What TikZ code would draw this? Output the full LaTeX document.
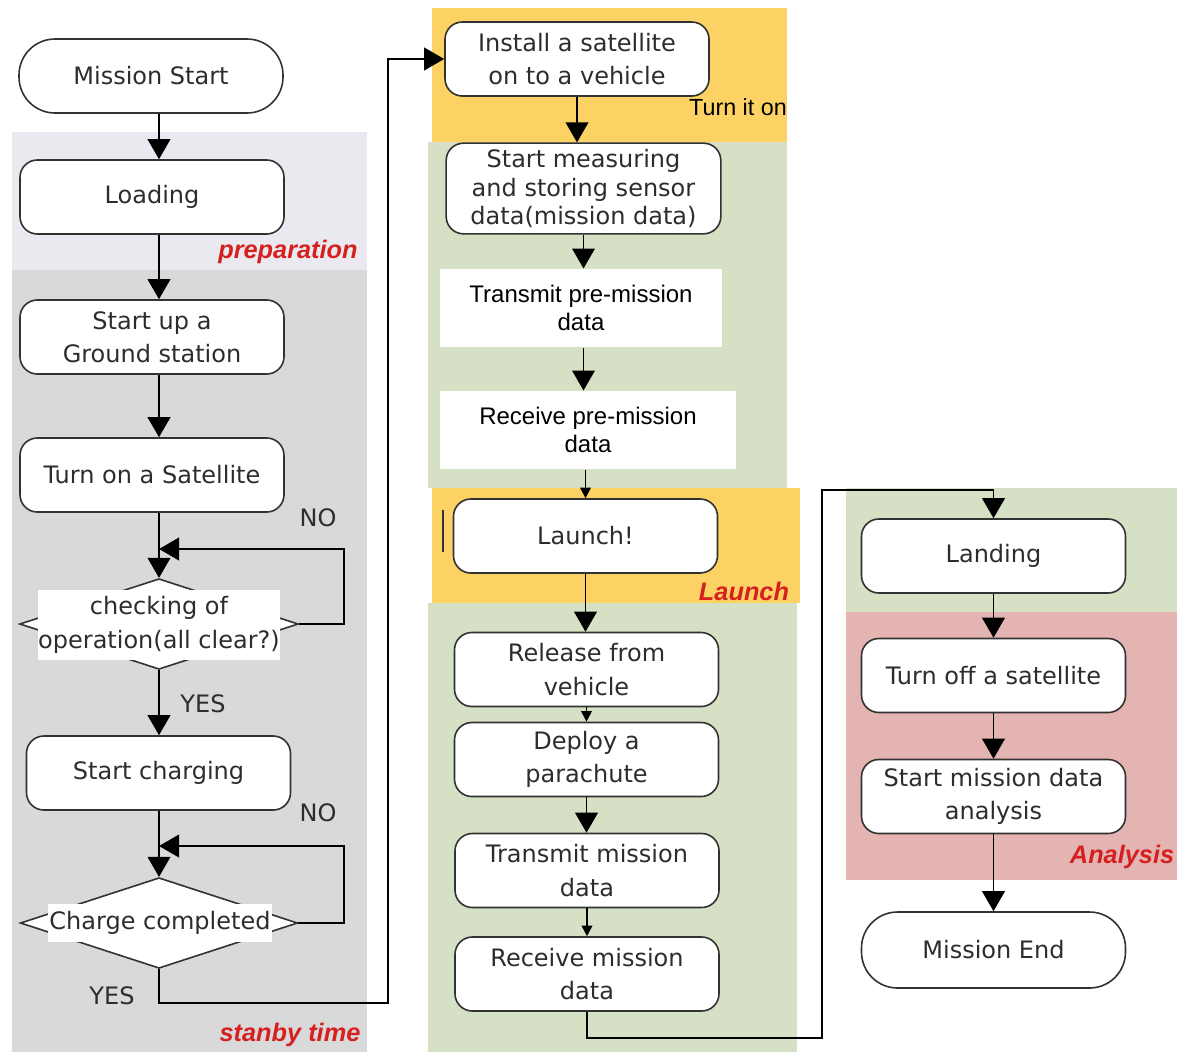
\documentclass[tikz,border=0pt]{standalone}
\usepackage{fontspec}
\setmainfont{DejaVu Sans}
\newfontfamily\arialfont{Liberation Sans}
\usetikzlibrary{arrows.meta,shapes.geometric}

\definecolor{prepbg}{RGB}{234,233,240}
\definecolor{standbg}{RGB}{217,217,217}
\definecolor{orangebg}{RGB}{252,210,100}
\definecolor{greenbg}{RGB}{214,224,196}
\definecolor{pinkbg}{RGB}{228,180,178}
\definecolor{labred}{RGB}{214,32,32}
\definecolor{boxline}{RGB}{50,50,50}
\definecolor{boxtext}{RGB}{45,45,45}

\tikzset{every picture/.style={line width=0.75pt}}
\tikzset{
  box/.style={draw=boxline, line width=1.2pt, fill=white, rounded corners=13pt, minimum width=198pt, minimum height=55.5pt, inner sep=0pt, align=center, text=boxtext, font=\fontsize{18}{25}\selectfont},
  term/.style={box, rounded corners=27pt},
  dia/.style={diamond, draw=boxline, line width=1.2pt, fill=white, inner sep=0pt},
  diatext/.style={fill=white, inner sep=0pt, align=center, text=boxtext, font=\fontsize{18}{26}\selectfont},
  whitebox/.style={fill=white, inner sep=0pt, align=center, font=\arialfont\fontsize{18}{21}\selectfont},
  arr/.style={line width=1.3pt, -{Triangle[length=15pt,width=17pt]}},
  arrs/.style={line width=1.3pt, -{Triangle[length=8pt,width=8pt]}},
  phase/.style={text=labred, font=\arialfont\bfseries\itshape\fontsize{19}{19}\selectfont},
  yn/.style={text=boxtext, font=\fontsize{18}{18}\selectfont}
}

\begin{document}
\begin{tikzpicture}[x=0.75pt,y=0.75pt,yscale=-1,xscale=1]
\useasboundingbox (0,0) rectangle (1177,1054);

%Shape: Rectangle [backgrounds]
\fill[prepbg] (12,132) rectangle (367,270);
\fill[standbg] (12,270) rectangle (367,1052);
\fill[orangebg] (432,8) rectangle (787,142);
\fill[greenbg] (428,142) rectangle (787,488);
\fill[orangebg] (432,488) rectangle (800,603);
\fill[greenbg] (428,603) rectangle (797,1052);
\fill[greenbg] (846,488) rectangle (1177,612);
\fill[pinkbg] (846,612) rectangle (1177,880);

%Left column
\node[term] (ms) at (151,76) {Mission Start};
\node[box] (ld) at (152,197) {Loading};
\node[box] (gs) at (152,337) {Start up a\\Ground station};
\node[box] (ton) at (152,475) {Turn on a Satellite};
\node[dia, minimum width=209pt, minimum height=68pt] (chk) at (159,624) {};
\node[diatext, minimum width=182pt, minimum height=52.5pt] (chkt) at (159,625) {checking of\\operation(all clear?)};
\node[box] (chg) at (158.5,773) {Start charging};
\node[dia, minimum width=208pt, minimum height=68pt] (cc) at (159,923) {};
\node[diatext, minimum width=168pt, minimum height=28pt] (cct) at (160,923) {Charge completed};

%Middle column
\node[box] (inst) at (577,59) {Install a satellite\\on to a vehicle};
\node[box, minimum width=206pt, minimum height=68pt, font=\fontsize{18}{21.5}\selectfont] (meas) at (583.5,188.5) {Start measuring\\and storing sensor\\data(mission data)};
\node[whitebox, minimum width=211.5pt, minimum height=58.5pt] (txp) at (581,308) {Transmit pre-mission\\data};
\node[whitebox, minimum width=222pt, minimum height=58.5pt] (rxp) at (588,430) {Receive pre-mission\\data};
\node[box] (lau) at (585.5,536) {Launch!};
\node[box] (rel) at (586.5,669.5) {Release from\\vehicle};
\node[box] (dep) at (586.5,759.5) {Deploy a\\parachute};
\node[box] (txm) at (587,870.5) {Transmit mission\\data};
\node[box] (rxm) at (587,974) {Receive mission\\data};

%Right column
\node[box] (land) at (993.5,556) {Landing};
\node[box] (off) at (993.5,675.5) {Turn off a satellite};
\node[box] (ana) at (993.5,796.5) {Start mission data\\analysis};
\node[term, minimum height=57pt] (fin) at (993.5,950) {Mission End};

%Straight Lines [left column]
\draw[arr] (ms.south -| chk.north) -- (ld.north -| chk.north);
\draw[arr] (ld.south -| chk.north) -- (gs.north -| chk.north);
\draw[arr] (gs.south -| chk.north) -- (ton.north -| chk.north);
\draw[arr] (ton.south -| chk.north) -- (chk.north);
\coordinate (lp1) at (344,549);
\draw[arr] (chk.east) -| (lp1) -- (lp1 -| chk.north);
\draw[arr] (chk.south) -- (chg.north -| chk.south);
\draw[arr] (chg.south -| cc.north) -- (cc.north);
\coordinate (lp2) at (344,846);
\draw[arr] (cc.east) -| (lp2) -- (lp2 -| cc.north);
\coordinate (ex1) at (388,1003);
\draw[arr] (cc.south) |- (ex1) |- (inst.west);

%Straight Lines [middle column]
\draw[arr] (inst.south) -- (meas.north -| inst.south);
\draw[arr] (meas.south) -- (txp.north -| meas.south);
\draw[arr] (txp.south -| meas.south) -- (rxp.north -| meas.south);
\draw[arrs] (rxp.south -| lau.north) -- (lau.north);
\draw[arr] (lau.south) -- (rel.north -| lau.south);
\draw[arrs] (rel.south) -- (dep.north);
\draw[arr] (dep.south) -- (txm.north -| dep.south);
\draw[arrs] (txm.south) -- (rxm.north);
\draw[boxline, line width=1pt] (443,510) -- (443,552);
\coordinate (ex2) at (822,1038);
\coordinate (ex3) at (822,490);
\draw[arr] (rxm.south) |- (ex2) -- (ex3) -| (land.north);

%Straight Lines [right column]
\draw[arr] (land.south) -- (off.north);
\draw[arr] (off.south) -- (ana.north);
\draw[arr] (ana.south) -- (fin.north);

% Text Node
\node[yn] (no1) at (318,518) {NO};
\node[yn] (yes1) at (203,704) {YES};
\node[yn] (no2) at (318,813) {NO};
\node[yn] (yes2) at (112,996) {YES};
\node[font=\arialfont\fontsize{17.5}{17.5}\selectfont] (turnon) at (738,107) {Turn it on};
\node[phase] (lprep) at (288,252) {preparation};
\node[phase] (lstan) at (290,1035) {stanby time};
\node[phase] (llau) at (744,591) {Launch};
\node[phase, anchor=east, inner sep=1pt] (lana) at (1176,857) {Analysis};

\end{tikzpicture}
\end{document}
